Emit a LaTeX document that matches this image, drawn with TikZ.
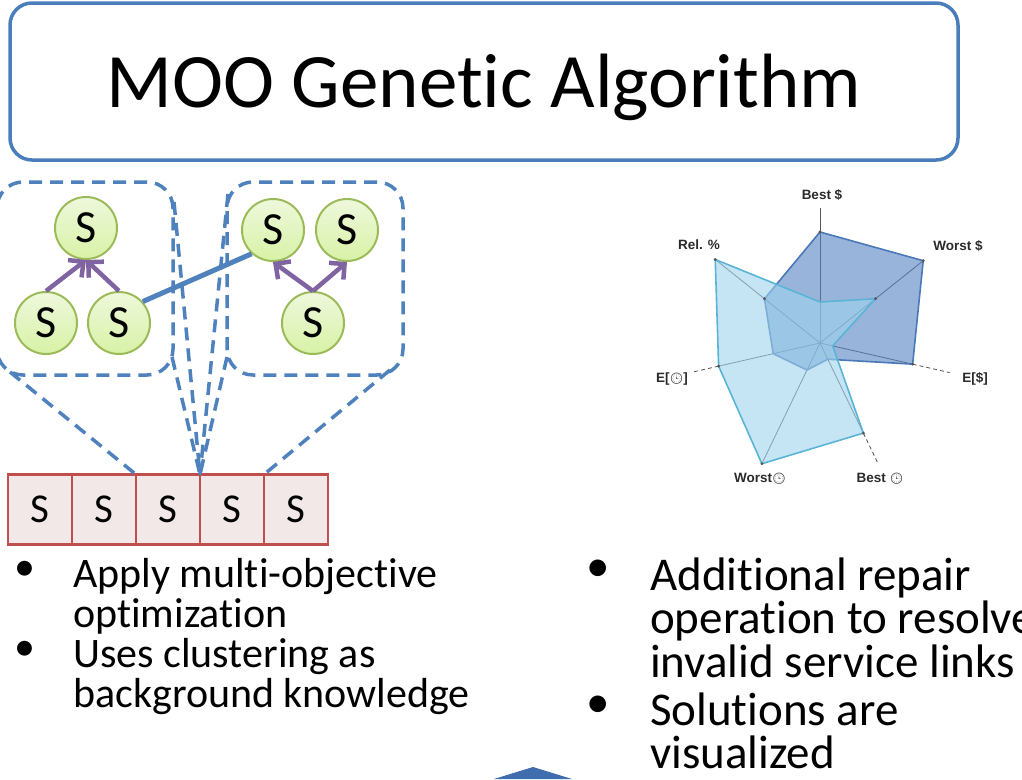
\documentclass[tikz,border=0pt]{standalone}
\usepackage{fontspec}
\setmainfont[Ligatures=NoCommon]{Carlito}
\newfontfamily\chartfont{Liberation Sans}
\newfontfamily\emojifont{Noto Emoji}
\usetikzlibrary{arrows.meta,calc}

\definecolor{accent}{HTML}{4F81BD}
\definecolor{boxline}{HTML}{4A7EBB}
\definecolor{leaf}{HTML}{9BBB59}
\definecolor{leaftop}{HTML}{EEF8DC}
\definecolor{leafbot}{HTML}{D8F2A6}
\definecolor{linkviolet}{HTML}{8064A2}
\definecolor{gene}{HTML}{C0504D}
\definecolor{genefill}{HTML}{F2E8E8}
\definecolor{polydark}{HTML}{5582C2}
\definecolor{polydarkedge}{HTML}{4A78B8}
\definecolor{polylight}{HTML}{9ED3EC}
\definecolor{polylightedge}{HTML}{5AB4D6}
\definecolor{axisgray}{HTML}{555555}
\definecolor{labelgray}{HTML}{2A2A2A}
\definecolor{pointer}{HTML}{3F6DAE}

% clock glyph used in the chart labels
\newcommand{\clk}{{\emojifont\fontsize{11}{11}\selectfont 🕒}}
% keeps "t" and "i" as separate glyphs
\newcommand{\nolig}{\kern0pt}

\begin{document}
\begin{tikzpicture}[x=1pt,y=-1pt,
  titlebox/.style={draw=boxline, line width=3.5pt, rounded corners=22pt, fill=white,
    minimum width=948pt, minimum height=157pt, inner sep=0pt, outer sep=0pt,
    text height=51pt, text depth=0pt, font=\fontsize{77}{80}\selectfont},
  snode/.style={circle, draw=leaf, line width=2pt, top color=leaftop, bottom color=leafbot,
    minimum size=62pt, inner sep=0pt, font=\fontsize{46}{46}\selectfont},
  genebox/.style={rectangle, draw=gene, line width=2.5pt, fill=genefill,
    minimum width=64pt, minimum height=70pt, inner sep=0pt, outer sep=0pt,
    font=\fontsize{41}{41}\selectfont},
  cluster/.style={rectangle, draw=accent, line width=3.5pt, dash pattern=on 13pt off 8pt,
    rounded corners=26pt, inner sep=0pt, outer sep=0pt},
  dashlink/.style={draw=accent, line width=3.5pt, dash pattern=on 13pt off 8pt},
  solidlink/.style={draw=accent, line width=5pt},
  dependency/.style={draw=linkviolet, line width=4.5pt,
    -{Straight Barb[length=11pt,width=22pt]}},
  leftitem/.style={anchor=base west, inner sep=0pt, font=\fontsize{42}{42}\selectfont},
  rightitem/.style={anchor=base west, inner sep=0pt, font=\fontsize{47}{47}\selectfont},
  bulletmark/.style={inner sep=0pt},
  axislabel/.style={inner sep=0pt, text=labelgray, font=\chartfont\bfseries\fontsize{13.5}{14}\selectfont},
  axisline/.style={draw=axisgray, line width=0.8pt},
  axisext/.style={draw=axisgray, line width=0.8pt, dash pattern=on 4pt off 3pt},
  vertexdot/.style={fill=axisgray, radius=1.6pt}
]
\useasboundingbox (0,0) rectangle (1022,779);

% heading
\node[titlebox] (title) at (484,81.5) {MOO Genet\nolig ic Algorithm};

% service clusters
\node[cluster, minimum width=176pt, minimum height=193pt] (lbox) at (85,278.5) {};
\node[cluster, minimum width=176pt, minimum height=193pt] (rbox) at (315,278.5) {};

% chromosome
\node[genebox] (g1) at (40,509.5) {S};
\node[genebox] (g2) at (104,509.5) {S};
\node[genebox] (g3) at (168,509.5) {S};
\node[genebox] (g4) at (232,509.5) {S};
\node[genebox] (g5) at (296,509.5) {S};

% cluster pointers onto the chromosome
\draw[dashlink] ($(lbox.south west)+(13,-3)$) -- (g2.north east);
\draw[dashlink] ($(lbox.north east)+(1,20)$) -- (g3.north east);
\draw[dashlink] ($(lbox.south east)+(-1,-18)$) -- (g3.north east);
\draw[dashlink] ($(rbox.north west)+(1,12)$) -- (g3.north east);
\draw[dashlink] ($(rbox.south west)+(0,-18)$) -- (g3.north east);
\draw[dashlink] ($(rbox.south east)+(-13,-5)$) -- (g4.north east);

% services
\node[snode] (lt) at (86,228) {S};
\node[snode] (lbl) at (46,323) {S};
\node[snode] (lbr) at (119,323) {S};
\node[snode] (rtl) at (273,230) {S};
\node[snode] (rtr) at (347,230) {S};
\node[snode] (rb) at (313,323) {S};

\draw[dependency] (lbl.north) -- (lt.south);
\draw[dependency] (lbr.north) -- (lt.south);
\draw[dependency] (rb.north) -- (rtl.south);
\draw[dependency] (rb.north) -- (rtr.south);
\draw[solidlink] (lbr.42) -- (rtl.228);

% radar chart
\begin{scope}[shift={(820,343)}]
  \coordinate (rc) at (0,0);
  \draw[axisline] (rc) -- (-90:135);
  \draw[axisline] (rc) -- (-38.57:132);
  \draw[axisline] (rc) -- (12.86:95);
  \draw[axisext] (12.86:95) -- (12.86:133);
  \draw[axisline] (rc) -- (64.29:100);
  \draw[axisext] (64.29:100) -- (64.29:133);
  \draw[axisline] (rc) -- (115.71:134);
  \draw[axisline] (rc) -- (167.14:104);
  \draw[axisext] (167.14:104) -- (167.14:131);
  \draw[axisline] (rc) -- (218.57:134);

  \filldraw[fill=polydark, fill opacity=0.6, draw=polydarkedge, line width=1.6pt, line join=round]
    (-90:111) -- (-38.57:132) -- (12.86:95) -- (64.29:18) -- (115.71:30)
    -- (167.14:48) -- (218.57:71) -- cycle;
  \filldraw[fill=polylight, fill opacity=0.6, draw=polylightedge, line width=1.6pt, line join=round]
    (-90:41) -- (-38.57:71) -- (12.86:13) -- (64.29:100) -- (115.71:134)
    -- (167.14:104) -- (218.57:134) -- cycle;

  \foreach \p in {(-90:111),(-38.57:132),(12.86:95),(218.57:71),
                  (-38.57:71),(64.29:100),(115.71:134),(167.14:104),(218.57:134)}
    \fill[vertexdot] \p circle;
\end{scope}

\node[axislabel] (lbBest) at (822,195) {Best \$};
\node[axislabel] (lbWorst) at (958,246) {Worst \$};
\node[axislabel] (lbE) at (975,379) {E[\$]};
\node[axislabel] (lbBestT) at (880,479) {Best \clk};
\node[axislabel] (lbWorstT) at (760,479) {Worst\clk};
\node[axislabel] (lbET) at (672,379) {E[\clk]};
\node[axislabel] (lbRel) at (699,245) {Rel. \%};

% left bullet list
\node[bulletmark, font=\fontsize{42}{42}\selectfont] (lb1) at (25,571) {•};
\node[leftitem] (l1) at (73,587) {Apply mult\nolig i-object\nolig ive};
\node[leftitem] (l2) at (73,627) {opt\nolig imizat\nolig ion};
\node[bulletmark, font=\fontsize{42}{42}\selectfont] (lb2) at (25,651) {•};
\node[leftitem] (l3) at (73,667) {Uses clustering as};
\node[leftitem] (l4) at (73,707) {background knowledge};

% right bullet list
\node[bulletmark, font=\fontsize{47}{47}\selectfont] (rb1) at (598,571) {•};
\node[rightitem] (r1) at (650,590) {Addit\nolig ional repair};
\node[rightitem] (r2) at (650,633) {operat\nolig ion to resolve};
\node[rightitem] (r3) at (650,677) {invalid service links};
\node[bulletmark, font=\fontsize{47}{47}\selectfont] (rb2) at (598,707) {•};
\node[rightitem] (r4) at (650,725) {Solut\nolig ions are};
\node[rightitem] (r5) at (650,768) {visualized};

% arrow tip rising from below
\fill[pointer] (494,779) -- (533,767) -- (572,779) -- cycle;
\end{tikzpicture}
\end{document}
